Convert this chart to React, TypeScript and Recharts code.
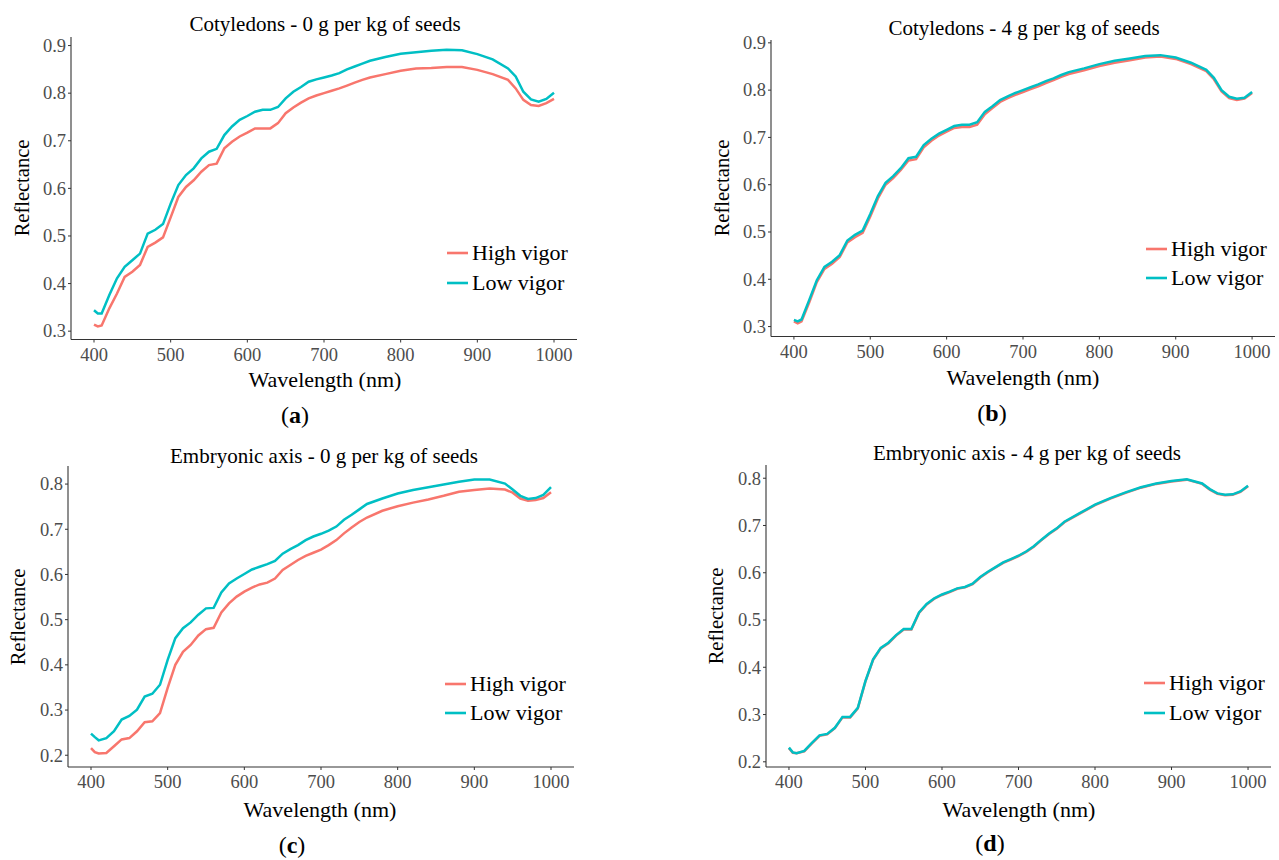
import React from "react";
import { LineChart, Line, XAxis, YAxis } from "recharts";

const wavelengths = [400,405,410,420,430,440,450,460,470,480,490,500,510,520,530,540,550,560,570,580,590,600,610,620,630,640,650,660,670,680,690,700,710,720,730,740,750,760,780,800,820,840,860,880,900,920,940,950,960,970,980,990,1000];

const cot0High = [0.314,0.310,0.312,0.348,0.379,0.414,0.425,0.439,0.477,0.486,0.497,0.539,0.582,0.603,0.617,0.635,0.649,0.652,0.684,0.698,0.709,0.717,0.726,0.726,0.726,0.737,0.758,0.770,0.780,0.789,0.795,0.800,0.805,0.810,0.816,0.822,0.828,0.833,0.840,0.847,0.852,0.853,0.855,0.855,0.849,0.840,0.828,0.810,0.786,0.775,0.773,0.779,0.788];
const cot0Low = [0.344,0.337,0.337,0.376,0.411,0.435,0.449,0.463,0.505,0.513,0.525,0.568,0.607,0.628,0.642,0.663,0.677,0.683,0.712,0.730,0.744,0.752,0.761,0.765,0.765,0.771,0.789,0.803,0.813,0.824,0.829,0.833,0.837,0.842,0.850,0.856,0.862,0.868,0.876,0.883,0.886,0.889,0.891,0.890,0.882,0.871,0.852,0.835,0.803,0.787,0.782,0.788,0.801];

const cot4High = [0.311,0.307,0.311,0.351,0.394,0.422,0.433,0.447,0.478,0.489,0.498,0.533,0.571,0.600,0.614,0.631,0.651,0.654,0.679,0.693,0.704,0.712,0.720,0.722,0.722,0.727,0.749,0.762,0.775,0.783,0.790,0.796,0.802,0.808,0.815,0.821,0.828,0.834,0.842,0.851,0.858,0.863,0.869,0.871,0.866,0.855,0.840,0.823,0.797,0.783,0.779,0.782,0.794];
const cot4Low = [0.314,0.311,0.315,0.356,0.398,0.426,0.437,0.451,0.482,0.494,0.503,0.538,0.576,0.604,0.618,0.635,0.656,0.659,0.684,0.697,0.708,0.716,0.724,0.727,0.727,0.732,0.754,0.766,0.779,0.787,0.794,0.800,0.806,0.812,0.819,0.825,0.832,0.838,0.846,0.855,0.862,0.867,0.872,0.874,0.869,0.858,0.843,0.826,0.800,0.786,0.782,0.784,0.796];

const axis0High = [0.216,0.207,0.204,0.205,0.220,0.235,0.238,0.253,0.273,0.275,0.293,0.349,0.400,0.429,0.444,0.465,0.479,0.482,0.516,0.536,0.551,0.562,0.571,0.578,0.582,0.591,0.610,0.621,0.632,0.641,0.648,0.655,0.665,0.676,0.691,0.704,0.716,0.726,0.741,0.751,0.759,0.766,0.774,0.783,0.787,0.790,0.788,0.781,0.768,0.763,0.765,0.769,0.782];
const axis0Low = [0.248,0.240,0.233,0.238,0.253,0.279,0.287,0.301,0.330,0.336,0.356,0.411,0.459,0.481,0.494,0.511,0.525,0.526,0.560,0.580,0.591,0.601,0.611,0.617,0.623,0.630,0.646,0.656,0.665,0.676,0.684,0.690,0.697,0.706,0.721,0.732,0.744,0.756,0.768,0.779,0.787,0.793,0.799,0.805,0.810,0.810,0.801,0.788,0.774,0.767,0.769,0.776,0.793];

const axis4High = [0.229,0.219,0.218,0.222,0.239,0.255,0.258,0.271,0.294,0.294,0.313,0.370,0.416,0.440,0.451,0.467,0.480,0.480,0.515,0.533,0.545,0.553,0.559,0.566,0.569,0.576,0.590,0.601,0.611,0.621,0.628,0.635,0.644,0.655,0.669,0.682,0.693,0.707,0.725,0.743,0.757,0.769,0.780,0.788,0.793,0.797,0.788,0.776,0.767,0.764,0.765,0.771,0.783];
const axis4Low = [0.230,0.220,0.218,0.223,0.240,0.256,0.259,0.272,0.295,0.295,0.314,0.371,0.417,0.441,0.452,0.468,0.481,0.481,0.516,0.534,0.546,0.554,0.560,0.567,0.570,0.577,0.591,0.602,0.612,0.622,0.629,0.636,0.645,0.656,0.670,0.683,0.694,0.708,0.726,0.744,0.758,0.770,0.781,0.789,0.794,0.798,0.789,0.777,0.768,0.765,0.766,0.772,0.784];

const xTicks = [400, 500, 600, 700, 800, 900, 1000];
const yTicksCot = [0.3, 0.4, 0.5, 0.6, 0.7, 0.8, 0.9];
const yTicksAxis = [0.2, 0.3, 0.4, 0.5, 0.6, 0.7, 0.8];

const seriesNames = ["High vigor", "Low vigor"];
const titles = [
  "Cotyledons - 0 g per kg of seeds",
  "Cotyledons - 4 g per kg of seeds",
  "Embryonic axis - 0 g per kg of seeds",
  "Embryonic axis - 4 g per kg of seeds",
];
const panelLetters = ["a", "b", "c", "d"];

const RED = "#F8766D";
const CYAN = "#00BFC4";
const FONT = '"Liberation Serif", "Times New Roman", serif';
const TICK_SIZE = 18.5;
const TICK_COLOR = "#4D4D4D";

const build = (high: number[], low: number[]) =>
  wavelengths.map((wl, i) => ({ wl, high: high[i], low: low[i] }));

const panels = [
  { title: titles[0], letter: panelLetters[0], data: build(cot0High, cot0Low), yTicks: yTicksCot, yDomain: [0.2825, 0.918],
    l: 71, t: 37, r: 577, b: 339.5, titleX: 325, titleY: 24, yTitleX: 22, xTitleX: 325, xTitleY: 380, letterX: 295, letterY: 415,
    legX: 447, legY: [253, 283] },
  { title: titles[1], letter: panelLetters[1], data: build(cot4High, cot4Low), yTicks: yTicksCot, yDomain: [0.279, 0.906],
    l: 771, t: 40, r: 1275, b: 336.5, titleX: 1024, titleY: 28, yTitleX: 722, xTitleX: 1023, xTitleY: 378, letterX: 992, letterY: 413,
    legX: 1146, legY: [249, 278] },
  { title: titles[2], letter: panelLetters[2], data: build(axis0High, axis0Low), yTicks: yTicksAxis, yDomain: [0.174, 0.84],
    l: 68, t: 466, r: 574, b: 767, titleX: 324, titleY: 456, yTitleX: 18, xTitleX: 320, xTitleY: 810, letterX: 292, letterY: 845,
    legX: 445, legY: [684, 713] },
  { title: titles[3], letter: panelLetters[3], data: build(axis4High, axis4Low), yTicks: yTicksAxis, yDomain: [0.189, 0.828],
    l: 766, t: 465, r: 1271, b: 767, titleX: 1027, titleY: 453, yTitleX: 716, xTitleX: 1019, xTitleY: 810, letterX: 990, letterY: 843,
    legX: 1144, legY: [683, 713] },
];

const YW = 60;
const MT = 10;
const MR = 10;
const XH = 40;

const center: React.CSSProperties = {
  position: "absolute",
  transform: "translate(-50%, -50%)",
  whiteSpace: "nowrap",
  lineHeight: 1,
  fontFamily: FONT,
  color: "#000",
};

const tickTextStyle: React.CSSProperties = { fontFamily: FONT, fontSize: TICK_SIZE, fill: TICK_COLOR };

function XTick(props: any) {
  const { x, y, payload } = props;
  return (
    <text x={x} y={y} dy={TICK_SIZE * 0.72} textAnchor="middle" style={tickTextStyle}>
      {String(payload.value)}
    </text>
  );
}

function YTick(props: any) {
  const { x, y, payload } = props;
  return (
    <text x={x} y={y} dy={TICK_SIZE * 0.34} textAnchor="end" style={tickTextStyle}>
      {Number(payload.value).toFixed(1)}
    </text>
  );
}

function Panel({ p }: { p: (typeof panels)[number] }) {
  const w = p.r - p.l + YW + MR;
  const h = p.b - p.t + MT + XH;
  return (
    <>
      <div style={{ position: "absolute", left: p.l - YW, top: p.t - MT }}>
        <LineChart width={w} height={h} data={p.data} margin={{ top: MT, right: MR, left: 0, bottom: 0 }}>
          <XAxis
            dataKey="wl"
            type="number"
            domain={[370, 1030]}
            ticks={xTicks}
            height={XH}
            tickSize={3}
            tickMargin={5}
            tick={<XTick />}
            axisLine={{ stroke: "#333", strokeWidth: 1.1 }}
            tickLine={{ stroke: "#333" }}
            allowDataOverflow
          />
          <YAxis
            type="number"
            domain={p.yDomain}
            ticks={p.yTicks}
            width={YW}
            tickSize={3}
            tickMargin={2}
            tick={<YTick />}
            axisLine={{ stroke: "#333", strokeWidth: 1.1 }}
            tickLine={{ stroke: "#333" }}
            allowDataOverflow
          />
          <Line type="linear" dataKey="high" stroke={RED} strokeWidth={2.5} dot={false} isAnimationActive={false} />
          <Line type="linear" dataKey="low" stroke={CYAN} strokeWidth={2.5} dot={false} isAnimationActive={false} />
        </LineChart>
      </div>
      <div style={{ ...center, left: p.titleX, top: p.titleY, fontSize: 21 }}>{p.title}</div>
      <div style={{ ...center, left: p.yTitleX, top: (p.t + p.b) / 2, fontSize: 20.5, transform: "translate(-50%, -50%) rotate(-90deg)" }}>
        Reflectance
      </div>
      <div style={{ ...center, left: p.xTitleX, top: p.xTitleY, fontSize: 22 }}>Wavelength (nm)</div>
      <div style={{ ...center, left: p.letterX, top: p.letterY, fontSize: 24 }}>
        (<b>{p.letter}</b>)
      </div>
      {seriesNames.map((name, i) => (
        <div key={name} style={{ position: "absolute", left: p.legX, top: p.legY[i], transform: "translateY(-50%)", display: "flex", alignItems: "center", whiteSpace: "nowrap" }}>
          <svg width={21} height={6} style={{ display: "block" }}>
            <line x1={0} y1={3} x2={21} y2={3} stroke={i === 0 ? RED : CYAN} strokeWidth={2.6} />
          </svg>
          <span style={{ fontFamily: FONT, fontSize: 22, marginLeft: 4, lineHeight: 1, color: "#000" }}>{name}</span>
        </div>
      ))}
    </>
  );
}

export default function App() {
  return (
    <div style={{ position: "absolute", left: 0, top: 0, width: 1279, height: 860, background: "#fff", overflow: "hidden", fontFamily: FONT }}>
      {panels.map((p) => (
        <Panel key={p.letter} p={p} />
      ))}
    </div>
  );
}
